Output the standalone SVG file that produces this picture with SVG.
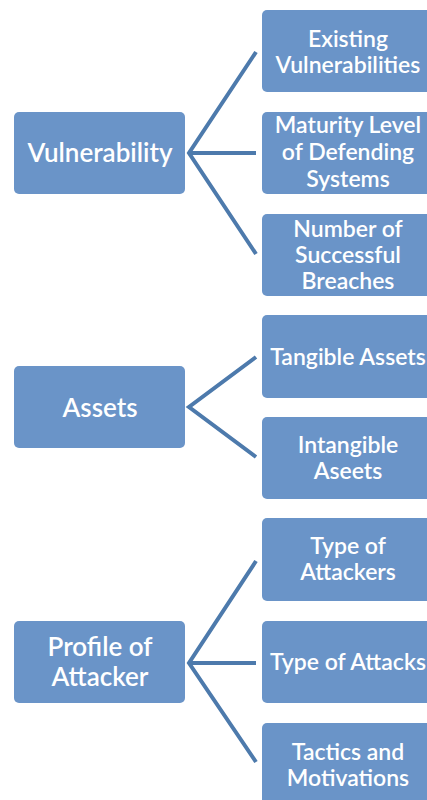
<svg xmlns="http://www.w3.org/2000/svg" width="427" height="800" viewBox="0 0 427 800">
<style>
.box{fill:#6a94c8;}
.t{font-family:Lato,"Open Sans","Liberation Sans",sans-serif;font-size:23px;fill:#ffffff;text-anchor:middle;font-weight:600;}
.l{font-size:26px;}
.c{stroke:#4d7aac;stroke-width:4;fill:none;stroke-linejoin:miter;}
</style>
<rect width="427" height="800" fill="#ffffff"/>
<g id="connectors">
<polyline class="c" points="256,52 189,153 256,254"/>
<line class="c" x1="189" y1="153" x2="256" y2="153"/>
<polyline class="c" points="256,357 189,407 256,457"/>
<polyline class="c" points="256,561 189,663 256,762"/>
<line class="c" x1="189" y1="663" x2="256" y2="663"/>
</g>
<g id="vulnerability"><rect class="box" x="14" y="112" width="171" height="82" rx="5"/><text class="t l" x="100" y="162">Vulnerability</text></g>
<g id="existing"><rect class="box" x="262" y="10" width="172" height="82" rx="5"/><text class="t" x="348" y="47">Existing</text><text class="t" x="348" y="73">Vulnerabilities</text></g>
<g id="maturity"><rect class="box" x="262" y="112" width="172" height="82" rx="5"/><text class="t" x="348" y="133">Maturity Level</text><text class="t" x="348" y="160">of Defending</text><text class="t" x="348" y="187">Systems</text></g>
<g id="breaches"><rect class="box" x="262" y="214" width="172" height="82" rx="5"/><text class="t" x="348" y="237">Number of</text><text class="t" x="348" y="263">Successful</text><text class="t" x="348" y="289">Breaches</text></g>
<g id="assets"><rect class="box" x="14" y="366" width="171" height="82" rx="5"/><text class="t l" x="100" y="417">Assets</text></g>
<g id="tangible"><rect class="box" x="262" y="315" width="172" height="83" rx="5"/><text class="t" x="348" y="365">Tangible Assets</text></g>
<g id="intangible"><rect class="box" x="262" y="417" width="172" height="82" rx="5"/><text class="t" x="348" y="453">Intangible</text><text class="t" x="348" y="479">Aseets</text></g>
<g id="profile"><rect class="box" x="14" y="621" width="171" height="82" rx="5"/><text class="t l" x="100" y="656">Profile of</text><text class="t l" x="100" y="686">Attacker</text></g>
<g id="attackers"><rect class="box" x="262" y="518" width="172" height="83" rx="5"/><text class="t" x="348" y="554">Type of</text><text class="t" x="348" y="580">Attackers</text></g>
<g id="attacks"><rect class="box" x="262" y="621" width="172" height="82" rx="5"/><text class="t" x="348" y="670">Type of Attacks</text></g>
<g id="tactics"><rect class="box" x="262" y="723" width="172" height="90" rx="5"/><text class="t" x="348" y="760">Tactics and</text><text class="t" x="348" y="786">Motivations</text></g>
</svg>
